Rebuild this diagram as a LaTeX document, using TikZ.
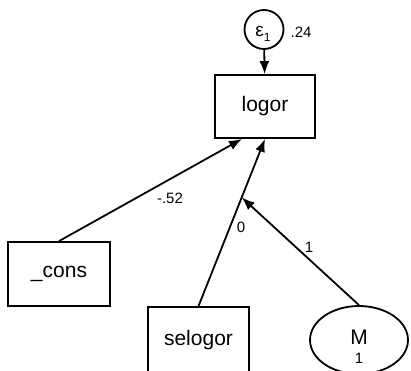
\documentclass[tikz,border=0pt]{standalone}
\usepackage{fontspec}
\setmainfont{Liberation Sans}
\usetikzlibrary{arrows.meta,calc,shapes.geometric}
\begin{document}
\begin{tikzpicture}[x=1pt,y=-1pt,
  line width=1.8pt,
  box/.style={draw,rectangle,line width=1.8pt,inner sep=0pt,font=\fontsize{21}{24}\selectfont},
  latent/.style={draw,ellipse,line width=1.8pt,inner sep=0pt},
  lbl/.style={font=\fontsize{15}{17}\selectfont,inner sep=0pt},
  path/.style={-{Latex[length=13pt,width=10pt]}}]
\useasboundingbox (0,0) rectangle (411,370);
\node[box,minimum width=100pt,minimum height=63pt] (logor) at (265,106.5) {logor};
\node[draw,circle,line width=1.8pt,minimum size=39pt,inner sep=0pt] (eps) at (264,29.5) {};
\node[inner sep=0pt] (epst) at (263,34) {{\fontsize{19}{20}\selectfont ε}\raisebox{-5pt}{\fontsize{12}{13}\selectfont 1}};
\node[lbl] (v24) at (301,32) {.24};
\node[box,minimum width=102pt,minimum height=64pt] (cons) at (59,274) {\_cons};
\node[box,minimum width=101pt,minimum height=66pt] (sel) at (198.5,340) {selogor};
\node[latent,minimum width=98pt,minimum height=68pt] (M) at (359,340) {};
\node[inner sep=0pt,font=\fontsize{21}{24}\selectfont] (Mt) at (359,337) {M};
\node[lbl] (M1) at (359,358) {1};
\draw[path] (eps) -- (logor);
\draw[path] (cons.north) -- ([xshift=-23pt]logor.south);
\draw[path] (sel.north) -- (logor.south);
\coordinate (mid) at ($(sel.north)!0.65!(logor.south)$);
\draw[path] (M.north) -- (mid);
\node[lbl] (l52) at (170,198) {-.52};
\node[lbl] (l0) at (241,227) {0};
\node[lbl] (l1) at (309,247) {1};
\end{tikzpicture}
\end{document}
